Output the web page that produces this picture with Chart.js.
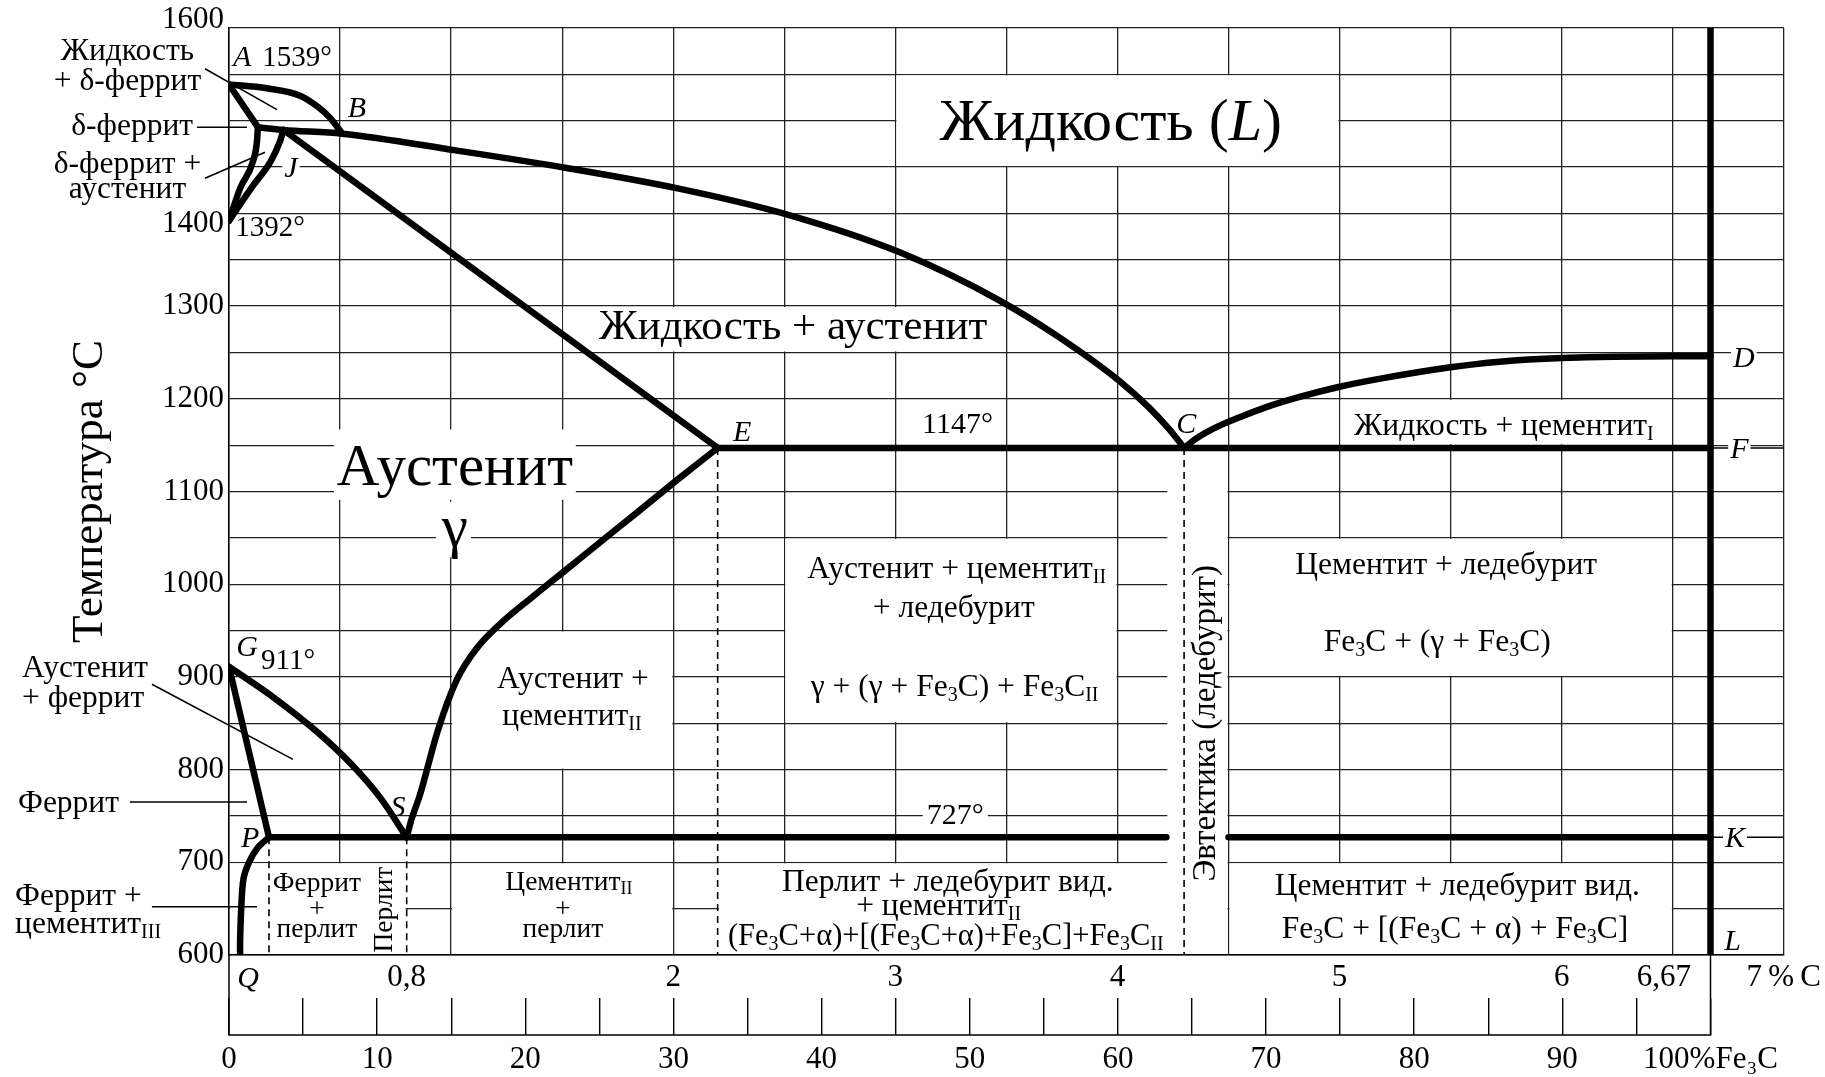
<!DOCTYPE html>
<html lang="ru">
<head>
<meta charset="utf-8">
<title>Диаграмма состояния железо – цементит</title>
<script src="https://cdn.jsdelivr.net/npm/chart.js@4.4.0/dist/chart.umd.min.js"></script>
<style>
  html, body { margin: 0; padding: 0; background: #fff; }
</style>
</head>
<body>
<canvas id="diagram" width="1825" height="1077"></canvas>
<script>
// Диаграмма Fe – Fe3C. Все линии заданы парами [%C, °C].

const SERIF = "'Liberation Serif', 'Times New Roman', serif";

// --- оси ---
const tempTicks = [600, 650, 700, 750, 800, 850, 900, 950, 1000, 1050, 1100, 1150, 1200, 1250, 1300, 1350, 1400, 1450, 1500, 1550, 1600];
const tempLabels = [600, 700, 800, 900, 1000, 1100, 1200, 1300, 1400, 1600];
const tempLabelShift = { 1600: -8, 1400: 10 };   // сдвиг подписи от линии сетки, px
const carbonGrid = [0, 0.5, 1, 1.5, 2, 2.5, 3, 3.5, 4, 4.5, 5, 5.5, 6, 6.5, 7];
const carbonTicks = [0.8, 2, 3, 4, 5, 6, 6.67, 7];
const carbonTickText = ['0,8', '2', '3', '4', '5', '6', '6,67\u2002\u2002\u2002\u2002\u2002\u2002', '7\u2009%\u2009C'];
const cementiteTicks = [0, 5, 10, 15, 20, 25, 30, 35, 40, 45, 50, 55, 60, 65, 70, 75, 80, 85, 90, 95, 100];
const cementiteLabels = [0, 10, 20, 30, 40, 50, 60, 70, 80, 90, 100];

// --- линии диаграммы ---
const liquidusAB = [[0, 1539], [0.17, 1535], [0.32, 1527], [0.40, 1515], [0.455, 1503], [0.51, 1486]];
const solidusAH = [[0, 1539], [0.13, 1493]];
const lineHJBC = [[0.13, 1493], [0.245, 1490], [0.51, 1486], [1.02, 1468], [1.52, 1449], [2.02, 1427],
  [2.51, 1399], [3.02, 1358], [3.47, 1306], [3.74, 1266], [4.01, 1219], [4.14, 1191], [4.23, 1168], [4.3, 1147]];
const lineNH = [[0, 1392], [0.05, 1427], [0.108, 1456], [0.126, 1478], [0.13, 1493]];
const lineNJ = [[0, 1392], [0.108, 1430], [0.185, 1455], [0.23, 1478], [0.245, 1490]];
const lineJE = [[0.245, 1490], [2.2, 1147]];
const lineECF = [[2.2, 1147], [6.67, 1147]];
const liquidusCD = [[4.3, 1147], [4.36, 1158], [4.45, 1170], [4.55, 1180], [4.67, 1191], [4.82, 1202], [5.0, 1213],
  [5.19, 1222], [5.5, 1234], [5.72, 1240], [6.0, 1244], [6.5, 1246], [6.67, 1246]];
const lineGS = [[0, 911], [0.2, 878], [0.4, 840], [0.55, 806], [0.68, 770], [0.8, 727]];
const lineGP = [[0, 911], [0.18, 727]];
const linePQ = [[0.18, 727], [0.13, 716], [0.09, 700], [0.065, 682], [0.055, 650], [0.05, 615], [0.05, 600]];
const lineSE = [[0.8, 727], [0.82, 745], [0.86, 773], [0.94, 842], [1.026, 897], [1.116, 931], [1.22, 957],
  [1.37, 987], [1.52, 1016], [1.70, 1051], [1.82, 1074], [2.015, 1112], [2.2, 1147]];
const linePS = [[0.18, 727], [4.22, 727]];
const lineSK = [[4.5, 727], [6.67, 727]];
const cementiteLine = [[6.67, 600], [6.67, 1600]];
const tailF = [[6.67, 1147], [7, 1147]];
const tailK = [[6.67, 727], [7, 727]];

const dashP = [[0.18, 727], [0.18, 600]];
const dashS = [[0.8, 727], [0.8, 600]];
const dashE = [[2.2, 1147], [2.2, 600]];
const dashC = [[4.3, 1147], [4.3, 600]];

// выноски к подписям слева
const leaderLiqDelta = [[-0.108, 1556], [0.216, 1512]];
const leaderDelta = [[-0.144, 1493], [0.081, 1493]];
const leaderDeltaGamma = [[-0.108, 1438], [0.162, 1466]];
const leaderGammaAlpha = [[-0.347, 892], [0.288, 811]];
const leaderFerrite = [[-0.446, 765], [0.081, 765]];
const leaderFerriteCem = [[-0.347, 652], [0.126, 652]];

// пустые (без сетки) клетки под надписями: [x0, x1, t0, t1]
const blankCells = [
  [3.0, 5.0, 1450, 1550],
  [1.5, 3.5, 1250, 1300],
  [0.468, 1.566, 1090, 1168],
  [0.927, 1.094, 1028, 1090],
  [1.0, 2.0, 800, 950],
  [2.5, 4.0, 850, 1050],
  [2.2, 4.3, 600, 700],
  [1.0, 2.0, 600, 700],
  [0.0, 0.8, 600, 700],
  [4.5, 6.5, 900, 1050],
  [5.0, 6.5, 1150, 1200],
  [4.5, 6.5, 600, 700],
  [4.22, 4.5, 600, 1147]
];

const s3 = ['3', 'sub'];
const II = ['II', 'sub'];

const regionLabels = [
  { at: [-0.457, 1576], parts: ['Жидкость'] },
  { at: [-0.457, 1544], parts: ['+ δ-феррит'] },
  { at: [-0.162, 1495], align: 'right', parts: ['δ-феррит'] },
  { at: [-0.457, 1454], parts: ['δ-феррит +'] },
  { at: [-0.457, 1427], parts: ['аустенит'] },
  { at: [-0.932, 911], align: 'left', parts: ['Аустенит'] },
  { at: [-0.932, 878], align: 'left', parts: ['+ феррит'] },
  { at: [-0.95, 765], align: 'left', parts: ['Феррит'] },
  { at: [-0.963, 665], align: 'left', parts: ['Феррит +'] },
  { at: [-0.963, 635], align: 'left', parts: ['цементит', ['III', 'sub']] },

  { at: [3.97, 1500], size: 60, parts: ['Жидкость (', ['L', 'i'], ')'] },
  { at: [2.54, 1279], size: 43, parts: ['Жидкость + аустенит'] },
  { at: [1.017, 1127], size: 59, parts: ['Аустенит'] },
  { at: [1.017, 1062], size: 59, parts: ['γ'] },
  { at: [1.548, 899], parts: ['Аустенит +'] },
  { at: [1.544, 859], parts: ['цементит', II] },
  { at: [3.276, 1018], parts: ['Аустенит + цементит', II] },
  { at: [3.263, 976], parts: ['+ ледебурит'] },
  { at: [3.267, 890], parts: ['γ + (γ + Fe', s3, 'C) + Fe', s3, 'C', II] },
  { at: [3.236, 680], parts: ['Перлит + ледебурит вид.'] },
  { at: [3.195, 654], parts: ['+ цементит', II] },
  { at: [3.227, 621], size: 30.5, parts: ['(Fe', s3, 'C+α)+[(Fe', s3, 'C+α)+Fe', s3, 'C]+Fe', s3, 'C', II] },
  { at: [4.39, 850], size: 33, rot: -Math.PI / 2, parts: ['Эвтектика (ледебурит)'] },
  { at: [5.48, 1022], parts: ['Цементит + ледебурит'] },
  { at: [5.44, 939], parts: ['Fe', s3, 'C + (γ + Fe', s3, 'C)'] },
  { at: [5.74, 1172], parts: ['Жидкость + цементит', ['I', 'sub']] },
  { at: [5.53, 676], parts: ['Цементит + ледебурит вид.'] },
  { at: [5.52, 629], parts: ['Fe', s3, 'C + [(Fe', s3, 'C + α) + Fe', s3, 'C]'] },
  { at: [0.396, 678], size: 27.5, parts: ['Феррит'] },
  { at: [0.396, 650], size: 27.5, parts: ['+'] },
  { at: [0.396, 629], size: 27.5, parts: ['перлит'] },
  { at: [0.693, 649], size: 27.5, rot: -Math.PI / 2, parts: ['Перлит'] },
  { at: [1.53, 680], size: 27.5, parts: ['Цементит', II] },
  { at: [1.503, 650], size: 27.5, parts: ['+'] },
  { at: [1.503, 629], size: 27.5, parts: ['перлит'] },

  { at: [0.306, 1569], size: 29, parts: ['1539°'] },
  { at: [0.185, 1386], size: 29, parts: ['1392°'] },
  { at: [0.266, 919], size: 29, parts: ['911°'] },
  { at: [3.28, 1173], size: 30, bg: 4, parts: ['1147°'] },
  { at: [3.27, 752], size: 30, bg: 4, parts: ['727°'] }
];

// буквенные обозначения точек; over — поверх тонких продолжений линий
const pointLabels = [
  { at: [0.059, 1569], parts: [['A', 'i']] },
  { at: [0.576, 1514], parts: [['B', 'i']] },
  { at: [0.279, 1450], bg: 2, parts: [['J', 'i']] },
  { at: [2.31, 1165], bg: 2, parts: [['E', 'i']] },
  { at: [4.31, 1174], bg: 2, parts: [['C', 'i']] },
  { at: [6.82, 1245], bg: 2, parts: [['D', 'i']] },
  { at: [6.80, 1147], bg: 2, over: true, parts: [['F', 'i']] },
  { at: [6.78, 727], bg: 2, over: true, parts: [['K', 'i']] },
  { at: [6.77, 616], parts: [['L', 'i']] },
  { at: [0.081, 933], parts: [['G', 'i']] },
  { at: [0.761, 760], parts: [['S', 'i']] },
  { at: [0.095, 727], parts: [['P', 'i']] },
  { at: [0.086, 576], parts: [['Q', 'i']] }
];

const toXY = arr => arr.map(([x, y]) => ({ x, y }));

function heavy(data, smooth) {
  return {
    data: toXY(data), borderColor: '#000', borderWidth: 6.5,
    tension: smooth ? 0.3 : 0,
    cubicInterpolationMode: smooth === 'mono' ? 'monotone' : 'default',
    pointRadius: 0, fill: false, borderCapStyle: 'round', borderJoinStyle: 'round'
  };
}
function thin(data) {
  return Object.assign(heavy(data), { borderWidth: 1.6, borderCapStyle: 'butt', clip: false });
}
function dashed(data) {
  return Object.assign(heavy(data), { borderWidth: 1.6, borderDash: [7, 5], borderCapStyle: 'butt' });
}

const datasets = [
  dashed(dashP), dashed(dashS), dashed(dashE), dashed(dashC),
  thin(leaderLiqDelta), thin(leaderDelta), thin(leaderDeltaGamma),
  thin(leaderGammaAlpha), thin(leaderFerrite), thin(leaderFerriteCem),
  thin(tailF), thin(tailK),
  heavy(liquidusAB, 'mono'), heavy(solidusAH), heavy(lineHJBC, 'mono'),
  heavy(lineNH, 'mono'), heavy(lineNJ, 'mono'), heavy(lineJE),
  heavy(lineECF), heavy(liquidusCD, 'mono'),
  heavy(lineGS, 'mono'), heavy(lineGP), heavy(linePQ, 'bezier'), heavy(lineSE, 'mono'),
  heavy(linePS), heavy(lineSK), heavy(cementiteLine)
];

// --- текст с подстрочными индексами ---
function drawLabel(ctx, lb, px, py) {
  const size = lb.size || 31.5;
  const runs = lb.parts.map(p => {
    const [text, style] = Array.isArray(p) ? p : [p, ''];
    const small = style === 'sub';
    const fs = small ? Math.round(size * 0.64) : size;
    const font = (style === 'i' ? 'italic ' : '') + fs + 'px ' + SERIF;
    ctx.font = font;
    return { text, font, dy: small ? size * 0.16 : 0, w: ctx.measureText(text).width };
  });
  const width = runs.reduce((s, r) => s + r.w, 0);
  let x0 = lb.align === 'left' ? 0 : lb.align === 'right' ? -width : -width / 2;
  const base = size * 0.32;
  ctx.save();
  ctx.translate(px, py);
  if (lb.rot) ctx.rotate(lb.rot);
  if (lb.bg) {
    ctx.fillStyle = '#fff';
    ctx.fillRect(x0 - lb.bg, base - size * 0.72 - lb.bg, width + 2 * lb.bg, size * 0.92 + 2 * lb.bg);
  }
  ctx.fillStyle = '#000';
  ctx.textAlign = 'left';
  ctx.textBaseline = 'alphabetic';
  runs.forEach(r => {
    ctx.font = r.font;
    ctx.fillText(r.text, x0, base + r.dy);
    x0 += r.w;
  });
  ctx.restore();
}

function drawPoints(chart, over) {
  const xs = chart.scales.x, ys = chart.scales.y;
  pointLabels.filter(lb => !!lb.over === over).forEach(lb =>
    drawLabel(chart.ctx, Object.assign({ size: 30 }, lb), xs.getPixelForValue(lb.at[0]), ys.getPixelForValue(lb.at[1])));
}

const diagramText = {
  id: 'diagramText',
  beforeDatasetsDraw(chart) {
    const { ctx } = chart;
    const xs = chart.scales.x, ys = chart.scales.y;
    ctx.save();
    ctx.fillStyle = '#fff';
    blankCells.forEach(([x0, x1, t0, t1]) => {
      const l = xs.getPixelForValue(x0) + 1, r = xs.getPixelForValue(x1) - 1;
      const top = ys.getPixelForValue(t1) + 1, bot = ys.getPixelForValue(t0) - 1;
      ctx.fillRect(l, top, r - l, bot - top);
    });
    regionLabels.forEach(lb => drawLabel(ctx, lb, xs.getPixelForValue(lb.at[0]), ys.getPixelForValue(lb.at[1])));
    drawPoints(chart, false);
    ctx.restore();
  },
  afterDatasetsDraw(chart) {
    drawPoints(chart, true);
  },
  afterDraw(chart) {
    // рамка под шкалой % Fe3C
    const { ctx, chartArea } = chart;
    const fe = chart.scales.xFe;
    const left = fe.getPixelForValue(0), right = fe.getPixelForValue(100);
    const bottom = fe.top + fe.options.grid.tickLength;
    ctx.save();
    ctx.strokeStyle = '#000';
    ctx.lineWidth = 1.5;
    ctx.beginPath();
    ctx.moveTo(left, chartArea.bottom);
    ctx.lineTo(left, bottom);
    ctx.lineTo(right, bottom);
    ctx.lineTo(right, chartArea.bottom);
    ctx.stroke();
    ctx.restore();
  }
};

Chart.defaults.font.family = SERIF;
Chart.defaults.color = '#000';

const tickFont = { family: SERIF, size: 31 };

new Chart(document.getElementById('diagram'), {
  type: 'line',
  data: { datasets },
  options: {
    responsive: false,
    animation: false,
    events: [],
    layout: { padding: { left: 0, top: 28, right: 41, bottom: 0 } },
    plugins: { legend: { display: false }, tooltip: { enabled: false } },
    scales: {
      x: {
        type: 'linear', min: 0, max: 7, position: 'bottom', weight: 0,
        afterBuildTicks: s => {
          const vals = [...new Set([...carbonGrid, ...carbonTicks])].sort((a, b) => a - b);
          s.ticks = vals.map(v => ({ value: v }));
        },
        afterFit: s => { s.height = 43; },
        grid: {
          drawTicks: false, lineWidth: 1.3,
          color: ctx => carbonGrid.includes(ctx.tick.value) ? '#222' : 'rgba(0,0,0,0)'
        },
        border: { color: '#000', width: 1.5 },
        ticks: {
          autoSkip: false, maxRotation: 0, padding: 4, font: tickFont, color: '#000',
          callback: v => {
            const i = carbonTicks.indexOf(v);
            return i < 0 ? '' : carbonTickText[i];
          }
        }
      },
      xFe: {
        type: 'linear', min: 0, max: 700 / 6.67, position: 'bottom', weight: 1,
        afterBuildTicks: s => { s.ticks = cementiteTicks.map(v => ({ value: v })); },
        afterFit: s => { s.height = 79; },
        grid: { drawOnChartArea: false, drawTicks: true, tickLength: 37, color: '#000', lineWidth: 1.4 },
        border: { display: false },
        ticks: {
          autoSkip: false, maxRotation: 0, padding: 6, font: tickFont, color: '#000',
          callback: v => cementiteLabels.includes(v) ? (v === 100 ? '100%Fe\u2083C' : String(v)) : ''
        }
      },
      y: {
        type: 'linear', min: 600, max: 1600,
        afterBuildTicks: s => { s.ticks = tempTicks.map(v => ({ value: v })); },
        afterFit: s => { s.width = 229; },
        grid: { drawTicks: false, lineWidth: 1.3, color: '#222' },
        border: { color: '#000', width: 1.5 },
        ticks: {
          autoSkip: false, padding: 5, color: '#000',
          // подпись из двух строк (одна пустая) смещает число вверх или вниз
          font: ctx => {
            const shift = ctx.tick ? tempLabelShift[ctx.tick.value] : undefined;
            return shift ? { family: SERIF, size: 31, lineHeight: (2 * Math.abs(shift)) + 'px' } : tickFont;
          },
          callback: v => {
            if (!tempLabels.includes(v)) return '';
            const shift = tempLabelShift[v];
            if (!shift) return String(v);
            return shift < 0 ? [String(v), ''] : ['', String(v)];
          }
        },
        title: {
          display: true, text: 'Температура °C', color: '#000',
          font: { family: SERIF, size: 45 }, padding: { top: 63, bottom: 0 }
        }
      }
    }
  },
  plugins: [diagramText]
});
</script>
</body>
</html>
